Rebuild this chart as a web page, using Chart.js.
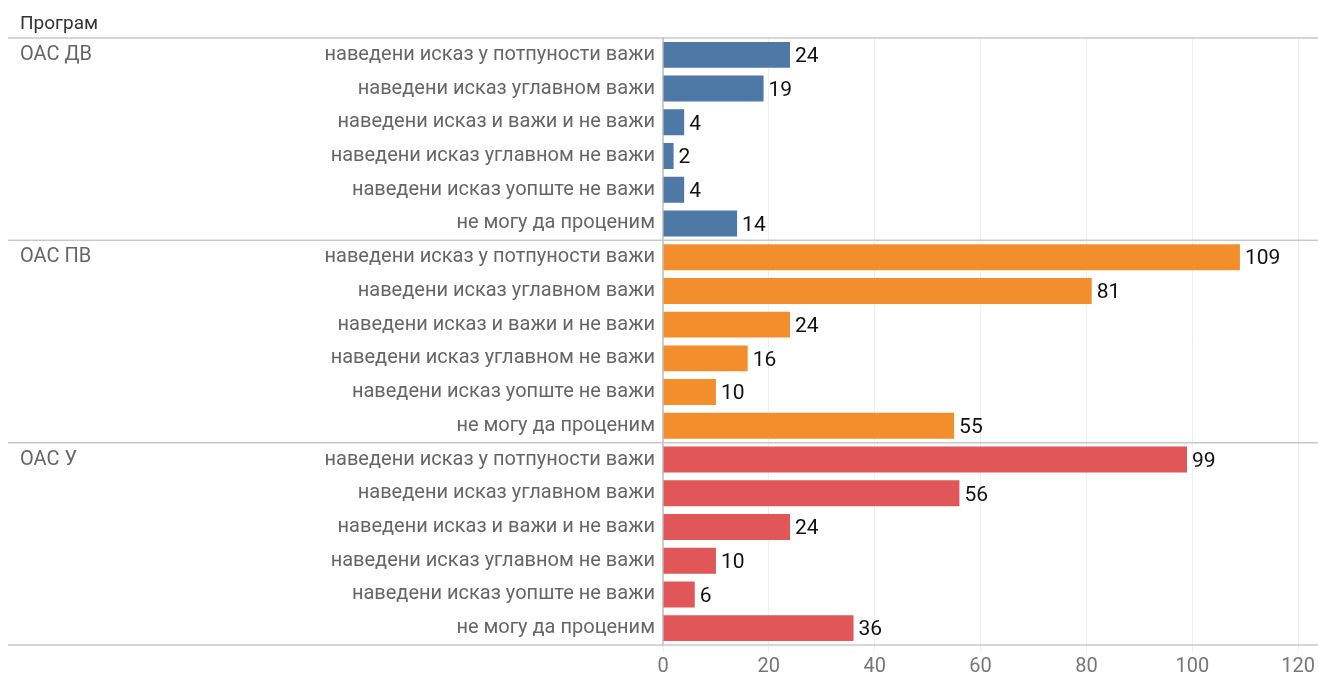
<!DOCTYPE html>
<html>
<head>
<meta charset="utf-8">
<script src="https://cdn.jsdelivr.net/npm/chart.js@4/dist/chart.umd.min.js"></script>
<style>
  html, body { margin: 0; padding: 0; background: #fff; }
  #wrap { width: 1318px; height: 675px; position: relative; }
</style>
</head>
<body>
<div id="wrap"><canvas id="chart"></canvas></div>
<script>
const groups = ["ОАС ДВ", "ОАС ПВ", "ОАС У"];
const answers = [
  "наведени исказ у потпуности важи",
  "наведени исказ углавном важи",
  "наведени исказ и важи и не важи",
  "наведени исказ углавном не важи",
  "наведени исказ уопште не важи",
  "не могу да проценим"
];
const valuesDV = [24, 19, 4, 2, 4, 14];
const valuesPV = [109, 81, 24, 16, 10, 55];
const valuesU = [99, 56, 24, 10, 6, 36];
const groupColors = ["#4e79a7", "#f28e2b", "#e15759"];
const xTicks = [0, 20, 40, 60, 80, 100, 120];

const FONT = "Roboto, 'Liberation Sans', sans-serif";

// flatten for the library
const labels = [];
const values = [];
const colors = [];
[valuesDV, valuesPV, valuesU].forEach((vals, g) => {
  vals.forEach((v, i) => {
    labels.push(answers[i]);
    values.push(v);
    colors.push(groupColors[g]);
  });
});

const groupPlugin = {
  id: 'groupPlugin',
  afterDraw(chart) {
    const ctx = chart.ctx;
    const y = chart.scales.y;
    const area = chart.chartArea;
    const n = answers.length;
    ctx.save();
    // header
    ctx.font = "19px " + FONT;
    ctx.fillStyle = "#333";
    ctx.textAlign = "left";
    ctx.textBaseline = "middle";
    ctx.fillText("Програм", 20, 24);
    // separators
    ctx.strokeStyle = "#c8c8c8";
    ctx.lineWidth = 1.5;
    const lines = [area.top];
    for (let g = 1; g < groups.length; g++) {
      lines.push((y.getPixelForValue(g * n - 1) + y.getPixelForValue(g * n)) / 2);
    }
    lines.push(area.bottom);
    lines.forEach(ly => {
      ctx.beginPath();
      ctx.moveTo(8, ly);
      ctx.lineTo(chart.width, ly);
      ctx.stroke();
    });
    // group names
    ctx.font = "20px " + FONT;
    ctx.fillStyle = "#666";
    groups.forEach((name, g) => {
      ctx.fillText(name, 20, y.getPixelForValue(g * n));
    });
    // value labels
    ctx.fillStyle = "#111";
    ctx.font = "21px " + FONT;
    const meta = chart.getDatasetMeta(0);
    meta.data.forEach((bar, i) => {
      ctx.fillText(String(values[i]), bar.x + 5, bar.y + 2);
    });
    ctx.restore();
  }
};

new Chart(document.getElementById('chart'), {
  type: 'bar',
  data: {
    labels: labels,
    datasets: [{
      data: values,
      backgroundColor: colors,
      borderWidth: 0,
      barPercentage: 0.77,
      categoryPercentage: 1
    }]
  },
  options: {
    indexAxis: 'y',
    responsive: true,
    maintainAspectRatio: false,
    animation: false,
    layout: { padding: { top: 38, right: 18, bottom: 0, left: 0 } },
    plugins: { legend: { display: false }, tooltip: { enabled: false } },
    scales: {
      x: {
        min: 0,
        max: 120,
        afterBuildTicks(scale) {
          scale.ticks = xTicks.map(v => ({ value: v }));
        },
        afterFit(scale) { scale.height = 30; },
        grid: { color: "#efefef", lineWidth: 1, tickLength: 7, drawOnChartArea: true },
        border: { display: false },
        ticks: { color: "#777", font: { size: 20, family: FONT }, padding: 3 }
      },
      y: {
        afterFit(scale) { scale.width = 663; },
        grid: { display: false, drawTicks: false },
        border: { display: true, color: "#cccccc", width: 2 },
        ticks: { color: "#666", font: { size: 20, family: FONT }, padding: 8, autoSkip: false }
      }
    }
  },
  plugins: [groupPlugin]
});
</script>
</body>
</html>
